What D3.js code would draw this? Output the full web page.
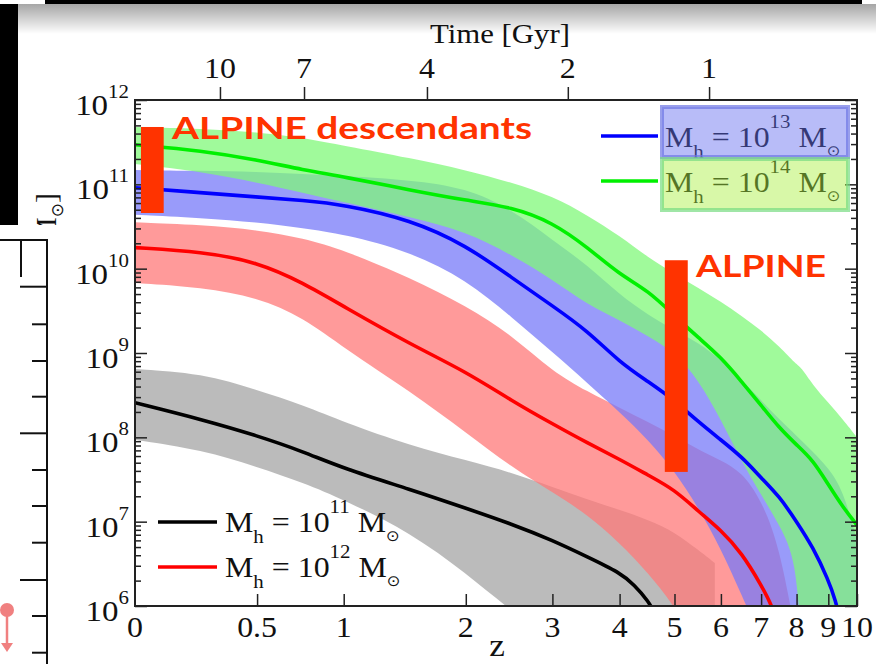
<!DOCTYPE html>
<html>
<head>
<meta charset="utf-8">
<script src="https://cdn.jsdelivr.net/npm/d3@7"></script>
<style>
body { margin: 0; background: #fff; }
svg { display: block; }
</style>
</head>
<body>
<svg id="chart" width="876" height="664"></svg>
<script>
// redshift grid used by most of the curves, values are log10(M*/Msun)
const zGrid = [0, 0.25, 0.5, 0.75, 1, 1.5, 2, 2.5, 3, 3.5, 4, 4.5, 5, 5.5, 6, 6.5, 7, 7.5, 8, 8.5, 9, 9.5, 10];

// Mh = 1e11 (black line, grey band)
const z11 = [0, 0.25, 0.5, 0.75, 1, 1.5, 2, 2.5, 3, 3.5, 4, 4.25, 4.5, 4.65];
const line11 = [8.41, 8.21, 8.02, 7.83, 7.63, 7.38, 7.16, 6.97, 6.78, 6.58, 6.40, 6.25, 6.06, 5.88];
const zBand11 = [0, 0.25, 0.5, 0.75, 1, 1.5, 2, 2.5, 3, 3.5, 4, 4.5, 5, 5.5, 5.86];
const hi11 = [8.81, 8.76, 8.56, 8.38, 8.18, 7.90, 7.73, 7.58, 7.41, 7.26, 7.14, 7.02, 6.88, 6.66, 6.51];
const lo11 = [7.97, 7.85, 7.65, 7.46, 7.26, 6.87, 6.39, 5.93, 5.6, 5.5, 5.5, 5.5, 5.5, 5.5, 5.5];

// Mh = 1e12 (red)
const z12 = [0, 0.25, 0.5, 0.75, 1, 1.5, 2, 2.5, 3, 3.5, 4, 4.5, 5, 5.5, 6, 6.5, 7, 7.3, 7.5];
const line12 = [10.25, 10.20, 10.08, 9.83, 9.55, 9.10, 8.78, 8.43, 8.16, 7.93, 7.74, 7.55, 7.38, 7.12, 6.90, 6.63, 6.25, 6.0, 5.72];
const zBand12 = [0, 0.25, 0.5, 0.75, 1, 1.5, 2, 2.5, 3, 3.5, 4, 4.5, 5, 5.5, 6, 6.5, 7, 7.5, 8];
const hi12 = [10.55, 10.52, 10.46, 10.36, 10.22, 9.89, 9.56, 9.21, 8.78, 8.54, 8.35, 8.18, 8.02, 7.85, 7.73, 7.59, 7.26, 6.72, 5.6];
const lo12 = [9.83, 9.78, 9.66, 9.42, 9.06, 8.54, 8.06, 7.64, 7.35, 7.08, 6.75, 6.39, 6.0, 5.5, 5.5, 5.5, 5.5, 5.5, 5.5];

// Mh = 1e13 (blue)
const z13 = [0, 0.25, 0.5, 0.75, 1, 1.5, 2, 2.5, 3, 3.5, 4, 4.5, 5, 5.5, 6, 6.5, 7, 7.5, 8, 8.5, 9, 9.25, 9.4];
const line13 = [10.96, 10.90, 10.85, 10.81, 10.76, 10.58, 10.28, 9.89, 9.56, 9.26, 8.89, 8.66, 8.44, 8.18, 7.97, 7.77, 7.52, 7.30, 7.00, 6.70, 6.31, 6.06, 5.83];
const hi13 = [11.17, 11.16, 11.15, 11.12, 11.10, 11.05, 10.96, 10.70, 10.34, 10.04, 9.69, 9.45, 9.27, 9.12, 8.92, 8.68, 8.44, 8.21, 8.02, 7.83, 7.64, 7.38, 6.78];
const lo13 = [10.64, 10.60, 10.55, 10.48, 10.41, 10.20, 9.87, 9.42, 9.01, 8.64, 8.30, 7.97, 7.60, 7.16, 6.68, 6.13, 5.6, 5.5, 5.5, 5.5, 5.5, 5.5, 5.5];

// Mh = 1e14 (green)
const line14 = [11.47, 11.40, 11.29, 11.17, 11.09, 10.93, 10.81, 10.73, 10.55, 10.25, 9.93, 9.74, 9.44, 9.18, 8.95, 8.66, 8.38, 8.11, 7.91, 7.73, 7.44, 7.17, 6.96];
const zBand14 = [0, 0.25, 0.5, 0.75, 1, 1.5, 2, 2.5, 3, 3.5, 4, 4.5, 5, 5.5, 6, 6.5, 7, 7.5, 8, 8.12, 8.5, 9, 9.5, 10];
const hi14 = [11.68, 11.66, 11.62, 11.55, 11.46, 11.31, 11.17, 11.02, 10.86, 10.63, 10.39, 10.13, 9.94, 9.77, 9.61, 9.44, 9.27, 9.08, 8.86, 8.84, 8.62, 8.41, 8.21, 8.00];
const lo14 = [11.24, 11.15, 11.02, 10.90, 10.79, 10.61, 10.44, 10.16, 9.87, 9.57, 9.39, 9.20, 9.01, 8.68, 8.21, 7.71, 7.32, 6.96, 6.55, 5.5, 5.5, 5.5, 5.5, 5.5];

// ALPINE boxes: [zmin, zmax, logM min, logM max]
const alpineDesc = [0.02, 0.10, 10.66, 11.68];
const alpine = [4.81, 5.27, 7.59, 10.10];

// axes
const zTicks = [0, 0.5, 1, 2, 3, 4, 5, 6, 7, 8, 9, 10];
const timeLabels = ["10", "7", "4", "2", "1"];
const timeZ = [0.326, 0.753, 1.637, 3.21, 5.73];
const yExp = [6, 7, 8, 9, 10, 11, 12];

const svg = d3.select("#chart");
const serif = "'Liberation Serif', 'Times New Roman', serif";

const x = d3.scaleLog().domain([1, 11]).range([135, 857]);
const X = z => x(1 + z);
const y = d3.scaleLog().domain([1e6, 1e12]).range([606, 100]);
const Y = v => y(Math.pow(10, v));

// ---- slide background bits around the figure ----
const defs = svg.append("defs");
const grad = defs.append("linearGradient").attr("id", "shade").attr("x1", 0).attr("x2", 0).attr("y1", 0).attr("y2", 1);
grad.append("stop").attr("offset", 0).attr("stop-color", "#000").attr("stop-opacity", 0.35);
grad.append("stop").attr("offset", 1).attr("stop-color", "#000").attr("stop-opacity", 0);
svg.append("rect").attr("x", 18).attr("y", 4).attr("width", 858).attr("height", 30).attr("fill", "url(#shade)");
svg.append("rect").attr("x", 45).attr("y", 0).attr("width", 817).attr("height", 4).attr("fill", "#000");
svg.append("rect").attr("x", 0).attr("y", 4).attr("width", 18).attr("height", 221).attr("fill", "#000");

defs.append("clipPath").attr("id", "plotclip")
    .append("rect").attr("x", 135).attr("y", 100).attr("width", 722).attr("height", 506);

const plot = svg.append("g").attr("clip-path", "url(#plotclip)");

function drawBand(zs, lo, hi, color) {
    const pts = zs.map((z, i) => ({z: z, lo: lo[i], hi: hi[i]}));
    const area = d3.area()
        .x(d => X(d.z))
        .y0(d => Y(d.lo))
        .y1(d => Y(d.hi))
        .curve(d3.curveBasis);
    plot.append("path").datum(pts)
        .attr("d", area)
        .attr("fill", color)
        .attr("fill-opacity", 0.745);
}

function drawLine(zs, vals, color) {
    const pts = zs.map((z, i) => ({z: z, v: vals[i]}));
    const line = d3.line()
        .x(d => X(d.z))
        .y(d => Y(d.v))
        .curve(d3.curveBasis);
    plot.append("path").datum(pts)
        .attr("d", line)
        .attr("fill", "none")
        .attr("stroke", color)
        .attr("stroke-width", 3.6);
}

drawBand(zBand11, lo11, hi11, "rgb(164,164,164)");
drawBand(zBand12, lo12, hi12, "rgb(255,120,120)");
drawBand(zGrid, lo13, hi13, "rgb(118,121,248)");
drawBand(zBand14, lo14, hi14, "rgb(128,248,121)");

drawLine(z11, line11, "#000");
drawLine(z12, line12, "#ff0000");
drawLine(z13, line13, "#0000ff");
drawLine(zGrid, line14, "#00f000");

// ---- axes ----
const axisCol = "#222";
const majors = yExp.map(e => Math.pow(10, e));
const minors = [];
yExp.slice(0, -1).forEach(e => {
    for (let k = 2; k <= 9; k++) minors.push(k * Math.pow(10, e));
});

function styleAxis(g) {
    g.select(".domain").remove();
    g.selectAll(".tick line").attr("stroke", axisCol).attr("stroke-width", 1.5);
    g.selectAll(".tick text").remove();
}

svg.append("g").attr("transform", "translate(135,0)")
    .call(d3.axisRight(y).tickValues(majors).tickSize(12)).call(styleAxis);
svg.append("g").attr("transform", "translate(135,0)")
    .call(d3.axisRight(y).tickValues(minors).tickSize(6)).call(styleAxis);
svg.append("g").attr("transform", "translate(857,0)")
    .call(d3.axisLeft(y).tickValues(majors).tickSize(12)).call(styleAxis);
svg.append("g").attr("transform", "translate(857,0)")
    .call(d3.axisLeft(y).tickValues(minors).tickSize(6)).call(styleAxis);
svg.append("g").attr("transform", "translate(0,606)")
    .call(d3.axisTop(x).tickValues(zTicks.slice(1).map(z => 1 + z)).tickSize(12)).call(styleAxis);
svg.append("g").attr("transform", "translate(0,100)")
    .call(d3.axisTop(x).tickValues(timeZ.map(z => 1 + z)).tickSize(13)).call(styleAxis);

svg.append("rect").attr("x", 135).attr("y", 100).attr("width", 722).attr("height", 506)
    .attr("fill", "none").attr("stroke", axisCol).attr("stroke-width", 2);

function stext(px, py, anchor, size) {
    return svg.append("text")
        .attr("transform", `translate(${px},${py}) scale(1.1,1)`)
        .attr("text-anchor", anchor)
        .style("font-family", serif)
        .style("font-size", size + "px")
        .attr("fill", "#111");
}

yExp.forEach(e => {
    const t = stext(129, y(Math.pow(10, e)) + 15, "end", 30);
    t.append("tspan").text("10");
    t.append("tspan").attr("dy", -17).style("font-size", "19px").text(e);
});

zTicks.forEach(z => {
    stext(X(z), 637, "middle", 29).text(z);
});
stext(497, 656, "middle", 32).text("z");

timeLabels.forEach((lab, i) => {
    stext(X(timeZ[i]), 78, "middle", 29).text(lab);
});
stext(500, 43, "middle", 28).text("Time [Gyr]");

// y label (mostly hidden behind the other slide panel)
const yl = svg.append("text")
    .attr("transform", "translate(56,193) rotate(-90)")
    .attr("text-anchor", "end")
    .style("font-family", serif).style("font-size", "30px").attr("fill", "#111");
yl.append("tspan").text("M* [M");
yl.append("tspan").attr("dy", 7).style("font-size", "17px").style("font-family", "'DejaVu Sans'").text("⊙");
yl.append("tspan").attr("dy", -7).text("]");

// ---- ALPINE annotations ----
function alpineBar(b) {
    svg.append("rect")
        .attr("x", X(b[0])).attr("width", X(b[1]) - X(b[0]))
        .attr("y", Y(b[3])).attr("height", Y(b[2]) - Y(b[3]))
        .attr("fill", "#ff3300");
}
alpineBar(alpineDesc);
alpineBar(alpine);

svg.append("text").attr("x", 172).attr("y", 139)
    .attr("textLength", 360).attr("lengthAdjust", "spacingAndGlyphs")
    .style("font-family", "Lato, 'Open Sans', sans-serif").style("font-weight", 700)
    .style("font-size", "31px").attr("fill", "#ff3300")
    .text("ALPINE descendants");
svg.append("text").attr("x", 696).attr("y", 277)
    .attr("textLength", 130).attr("lengthAdjust", "spacingAndGlyphs")
    .style("font-family", "Lato, 'Open Sans', sans-serif").style("font-weight", 700)
    .style("font-size", "31px").attr("fill", "#ff3300")
    .text("ALPINE");

// ---- legends ----
function massLabel(px, py, exp) {
    const t = stext(px, py, "start", 29);
    t.append("tspan").text("M");
    t.append("tspan").attr("dy", 11).style("font-size", "19px").text("h");
    t.append("tspan").attr("dy", -11).text(" = 10");
    t.append("tspan").attr("dy", -19).style("font-size", "19px").text(exp);
    t.append("tspan").attr("dy", 19).text(" M");
    t.append("tspan").attr("dy", 9).style("font-size", "15px").style("font-family", "'DejaVu Sans'").text("⊙");
}

const legLeft = [{exp: 11, color: "#000", y: 522}, {exp: 12, color: "#ff0000", y: 567}];
legLeft.forEach(d => {
    svg.append("line").attr("x1", 158).attr("x2", 217).attr("y1", d.y).attr("y2", d.y)
        .attr("stroke", d.color).attr("stroke-width", 3.6);
    massLabel(225, d.y + 10, d.exp);
});

const legRight = [{exp: 13, color: "#0000ff", y: 136}, {exp: 14, color: "#00f000", y: 181}];
legRight.forEach(d => {
    svg.append("line").attr("x1", 601).attr("x2", 658).attr("y1", d.y).attr("y2", d.y)
        .attr("stroke", d.color).attr("stroke-width", 3.6);
    massLabel(665, d.y + 11, d.exp);
});
// highlight boxes laid over the right legend
svg.append("rect").attr("x", 662).attr("y", 107).attr("width", 186).attr("height", 50)
    .attr("fill", "rgb(98,107,240)").attr("fill-opacity", 0.45)
    .attr("stroke", "rgb(110,118,228)").attr("stroke-width", 4).attr("stroke-opacity", 0.7);
svg.append("rect").attr("x", 662).attr("y", 159).attr("width", 186).attr("height", 51)
    .attr("fill", "rgb(169,240,62)").attr("fill-opacity", 0.45)
    .attr("stroke", "rgb(120,220,130)").attr("stroke-width", 4).attr("stroke-opacity", 0.7);

// ---- neighbouring slide panel at the bottom left ----
svg.append("rect").attr("x", 0).attr("y", 225).attr("width", 72).attr("height", 439).attr("fill", "#fff");
svg.append("line").attr("x1", 47).attr("x2", 47).attr("y1", 239).attr("y2", 664).attr("stroke", "#111").attr("stroke-width", 2);
svg.append("line").attr("x1", 0).attr("x2", 48).attr("y1", 240).attr("y2", 240).attr("stroke", "#111").attr("stroke-width", 2);
svg.append("line").attr("x1", 21).attr("x2", 21).attr("y1", 240).attr("y2", 277).attr("stroke", "#111").attr("stroke-width", 2);
const sideTicks = [286.7, 324.3, 361, 396.7, 433.3, 470, 506, 542.7, 580, 616, 652.7];
sideTicks.forEach((ty, i) => {
    svg.append("line").attr("x1", i % 4 === 0 ? 20 : 32).attr("x2", 47).attr("y1", ty).attr("y2", ty)
        .attr("stroke", "#111").attr("stroke-width", 2);
});
svg.append("line").attr("x1", 7).attr("x2", 7).attr("y1", 611).attr("y2", 645).attr("stroke", "#f08080").attr("stroke-width", 2.5);
svg.append("path").attr("d", "M1,643 L13,643 L7,652 Z").attr("fill", "#f08080");
svg.append("circle").attr("cx", 7).attr("cy", 610).attr("r", 7).attr("fill", "#f08080");
</script>
</body>
</html>
